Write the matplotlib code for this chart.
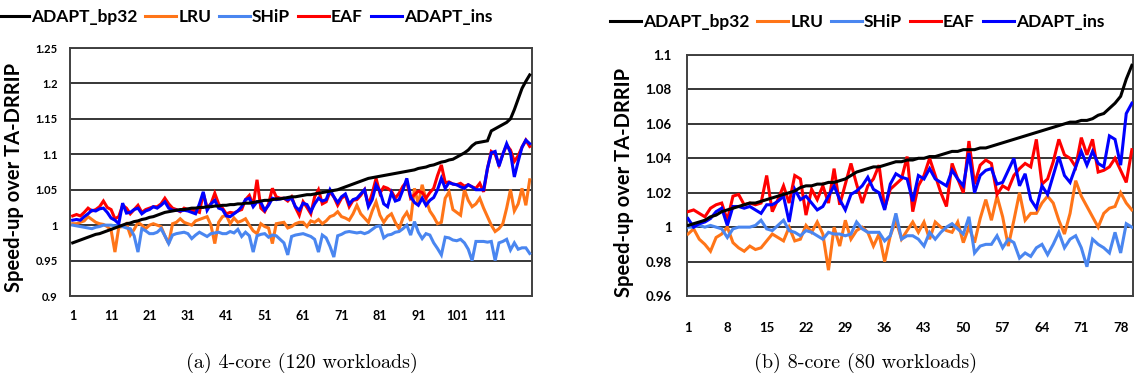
import numpy as np
import matplotlib
matplotlib.use("Agg")
from matplotlib import pyplot as plt

# ---- data: (a) 4-core, 120 workloads ----
adapt_bp32_4 = [0.975, 0.977, 0.979, 0.981, 0.983, 0.985, 0.987, 0.988, 0.990, 0.992,
                0.994, 0.996, 0.998, 1.000, 1.002, 1.003, 1.005, 1.006, 1.008, 1.009,
                1.011, 1.012, 1.014, 1.016, 1.018, 1.019, 1.020, 1.021, 1.022, 1.022,
                1.023, 1.024, 1.024, 1.025, 1.025, 1.026, 1.026, 1.027, 1.027, 1.028,
                1.028, 1.029, 1.029, 1.030, 1.030, 1.031, 1.031, 1.032, 1.033, 1.034,
                1.035, 1.035, 1.036, 1.037, 1.037, 1.038, 1.039, 1.040, 1.040, 1.041,
                1.042, 1.043, 1.043, 1.044, 1.045, 1.046, 1.047, 1.048, 1.049, 1.050,
                1.052, 1.054, 1.056, 1.058, 1.060, 1.062, 1.064, 1.066, 1.067, 1.068,
                1.069, 1.070, 1.071, 1.072, 1.073, 1.074, 1.075, 1.076, 1.077, 1.078,
                1.080, 1.081, 1.082, 1.084, 1.085, 1.087, 1.089, 1.090, 1.092, 1.093,
                1.096, 1.099, 1.102, 1.106, 1.112, 1.116, 1.117, 1.118, 1.119, 1.133,
                1.136, 1.139, 1.142, 1.145, 1.150, 1.163, 1.178, 1.193, 1.203, 1.212]
lru_4 = [1.002, 1.002, 1.004, 1.006, 1.012, 1.008, 1.004, 1.002, 1.001, 0.998,
         0.993, 0.962, 0.997, 0.998, 1.002, 0.986, 0.994, 1.004, 1.000, 0.995,
         1.000, 1.002, 1.000, 0.998, 0.985, 0.974, 1.002, 1.004, 1.009, 1.004,
         1.002, 1.000, 1.006, 1.008, 1.010, 1.012, 1.000, 0.974, 1.004, 1.012,
         1.014, 1.002, 1.010, 1.004, 1.006, 1.009, 1.000, 0.992, 0.988, 1.002,
         0.998, 0.996, 0.974, 1.002, 1.003, 1.004, 0.996, 0.998, 1.002, 1.004,
         1.004, 0.998, 1.006, 1.004, 1.008, 1.002, 1.006, 1.012, 1.014, 1.019,
         1.012, 1.010, 1.007, 1.016, 1.028, 1.016, 1.010, 1.004, 1.020, 1.033,
         1.014, 1.004, 1.012, 1.016, 1.004, 0.995, 1.010, 1.018, 1.006, 1.052,
         1.030, 1.057, 1.036, 1.020, 1.012, 1.002, 1.004, 1.038, 1.047, 1.022,
         1.018, 1.014, 1.050, 1.035, 1.026, 1.030, 1.038, 1.024, 1.012, 1.000,
         0.991, 0.995, 1.002, 1.024, 1.050, 1.020, 1.030, 1.052, 1.028, 1.064]
ship_4 = [1.000, 0.999, 0.998, 0.997, 0.996, 0.995, 0.997, 0.998, 1.000, 1.000,
          1.000, 0.999, 1.000, 0.998, 0.996, 0.995, 0.985, 0.962, 0.995, 0.992,
          0.988, 0.988, 0.990, 0.995, 0.985, 0.974, 0.986, 0.988, 0.989, 0.990,
          0.988, 0.981, 0.986, 0.990, 0.987, 0.984, 0.988, 0.989, 0.990, 0.988,
          0.988, 0.991, 0.989, 0.994, 0.984, 0.990, 0.985, 0.962, 0.985, 0.987,
          0.988, 0.983, 0.986, 0.985, 0.980, 0.975, 0.958, 0.984, 0.986, 0.987,
          0.988, 0.986, 0.984, 0.980, 0.962, 0.986, 0.982, 0.970, 0.955, 0.985,
          0.987, 0.990, 0.991, 0.990, 0.989, 0.990, 0.988, 0.990, 0.994, 0.998,
          0.999, 0.982, 0.986, 0.987, 0.990, 0.991, 0.995, 1.000, 0.986, 1.005,
          0.990, 0.981, 0.988, 0.986, 0.975, 0.967, 0.958, 0.983, 0.982, 0.979,
          0.978, 0.980, 0.975, 0.966, 0.950, 0.977, 0.977, 0.977, 0.976, 0.977,
          0.950, 0.975, 0.977, 0.980, 0.965, 0.975, 0.966, 0.968, 0.968, 0.960]
eaf_4 = [1.013, 1.015, 1.013, 1.018, 1.024, 1.020, 1.022, 1.026, 1.034, 1.025,
         1.022, 1.009, 1.012, 1.028, 1.024, 1.016, 1.022, 1.028, 1.018, 1.022,
         1.024, 1.026, 1.026, 1.030, 1.038, 1.030, 1.024, 1.022, 1.019, 1.024,
         1.022, 1.021, 1.020, 1.018, 1.045, 1.025, 1.030, 1.045, 1.030, 1.024,
         1.016, 1.018, 1.017, 1.020, 1.022, 1.036, 1.042, 1.028, 1.064, 1.024,
         1.019, 1.030, 1.052, 1.040, 1.038, 1.038, 1.034, 1.040, 1.025, 1.014,
         1.033, 1.025, 1.016, 1.040, 1.050, 1.030, 1.033, 1.047, 1.040, 1.028,
         1.038, 1.042, 1.026, 1.035, 1.036, 1.042, 1.050, 1.028, 1.045, 1.066,
         1.045, 1.054, 1.052, 1.048, 1.038, 1.045, 1.055, 1.061, 1.038, 1.043,
         1.048, 1.046, 1.038, 1.046, 1.052, 1.070, 1.085, 1.060, 1.061, 1.058,
         1.057, 1.059, 1.055, 1.057, 1.054, 1.052, 1.059, 1.047, 1.080, 1.104,
         1.100, 1.085, 1.100, 1.113, 1.106, 1.090, 1.098, 1.110, 1.120, 1.111]
adapt_ins_4 = [1.007, 1.008, 1.007, 1.012, 1.016, 1.021, 1.020, 1.023, 1.024, 1.018,
               1.010, 1.007, 1.002, 1.031, 1.017, 1.018, 1.022, 1.024, 1.016, 1.020,
               1.022, 1.026, 1.024, 1.028, 1.033, 1.024, 1.021, 1.021, 1.020, 1.021,
               1.020, 1.018, 1.016, 1.030, 1.047, 1.021, 1.030, 1.035, 1.024, 1.022,
               1.013, 1.012, 1.016, 1.020, 1.026, 1.036, 1.038, 1.026, 1.033, 1.032,
               1.021, 1.028, 1.038, 1.036, 1.037, 1.038, 1.036, 1.038, 1.026, 1.021,
               1.031, 1.029, 1.019, 1.030, 1.038, 1.034, 1.036, 1.050, 1.040, 1.032,
               1.040, 1.044, 1.030, 1.036, 1.038, 1.044, 1.050, 1.026, 1.036, 1.057,
               1.048, 1.030, 1.026, 1.046, 1.034, 1.036, 1.050, 1.066, 1.040, 1.032,
               1.028, 1.038, 1.028, 1.035, 1.039, 1.050, 1.066, 1.052, 1.060, 1.058,
               1.057, 1.054, 1.052, 1.057, 1.054, 1.050, 1.050, 1.050, 1.080, 1.102,
               1.104, 1.083, 1.100, 1.115, 1.102, 1.068, 1.090, 1.110, 1.120, 1.115]

# ---- data: (b) 8-core, 80 workloads ----
adapt_bp32_8 = [1.001, 1.002, 1.003, 1.004, 1.006, 1.007, 1.009, 1.010, 1.011, 1.012,
                1.013, 1.014, 1.014, 1.015, 1.016, 1.017, 1.018, 1.019, 1.020, 1.021,
                1.023, 1.024, 1.024, 1.025, 1.025, 1.026, 1.026, 1.027, 1.028, 1.030,
                1.032, 1.033, 1.034, 1.035, 1.035, 1.036, 1.037, 1.038, 1.038, 1.039,
                1.039, 1.040, 1.040, 1.041, 1.041, 1.042, 1.043, 1.044, 1.044, 1.045,
                1.045, 1.045, 1.046, 1.046, 1.047, 1.048, 1.049, 1.050, 1.051, 1.052,
                1.053, 1.054, 1.055, 1.056, 1.057, 1.058, 1.059, 1.060, 1.061, 1.061,
                1.062, 1.062, 1.063, 1.065, 1.066, 1.069, 1.072, 1.076, 1.086, 1.094]
lru_8 = [0.996, 0.999, 0.993, 0.990, 0.986, 0.994, 0.996, 1.000, 0.991, 0.988,
         0.986, 0.989, 0.987, 0.988, 0.992, 0.996, 0.994, 0.992, 1.000, 0.992,
         0.993, 1.001, 0.997, 1.003, 0.996, 0.975, 1.000, 0.989, 1.004, 0.993,
         0.998, 1.000, 0.997, 0.989, 0.996, 0.980, 0.995, 1.004, 0.993, 0.998,
         1.003, 0.997, 1.003, 0.993, 1.003, 1.000, 0.998, 0.997, 1.003, 0.991,
         1.000, 0.991, 1.005, 1.016, 1.004, 1.018, 1.006, 0.989, 1.004, 1.020,
         1.004, 1.008, 1.008, 1.014, 1.018, 1.014, 1.004, 0.996, 1.008, 1.027,
         1.018, 1.012, 1.006, 1.000, 1.008, 1.011, 1.012, 1.020, 1.014, 1.010]
ship_8 = [1.000, 1.000, 1.001, 1.000, 1.001, 1.000, 0.999, 0.994, 0.999, 1.000,
          1.000, 1.000, 1.001, 1.004, 0.999, 0.998, 1.001, 1.004, 0.998, 0.997,
          0.995, 0.998, 0.997, 0.995, 0.993, 0.997, 0.996, 0.996, 0.995, 0.996,
          1.003, 0.999, 0.997, 0.997, 0.997, 0.992, 0.995, 1.008, 0.993, 0.995,
          0.995, 0.993, 0.989, 0.997, 0.993, 0.997, 1.000, 1.002, 0.999, 0.996,
          1.006, 0.985, 0.989, 0.990, 0.990, 0.995, 0.988, 0.993, 0.991, 0.982,
          0.985, 0.983, 0.988, 0.990, 0.984, 0.990, 0.997, 0.988, 0.993, 0.995,
          0.988, 0.977, 0.993, 0.990, 0.988, 0.985, 0.997, 0.985, 1.002, 1.000]
eaf_8 = [1.009, 1.010, 1.008, 1.006, 1.011, 1.013, 1.014, 1.004, 1.018, 1.019,
         1.013, 1.014, 1.013, 1.014, 1.030, 1.009, 1.016, 1.024, 1.014, 1.030,
         1.028, 1.007, 1.022, 1.016, 1.024, 1.014, 1.034, 1.013, 1.025, 1.037,
         1.025, 1.014, 1.024, 1.028, 1.036, 1.011, 1.022, 1.025, 1.028, 1.041,
         1.009, 1.024, 1.030, 1.040, 1.030, 1.020, 1.012, 1.037, 1.028, 1.020,
         1.050, 1.025, 1.036, 1.039, 1.037, 1.019, 1.024, 1.022, 1.030, 1.034,
         1.037, 1.035, 1.051, 1.025, 1.028, 1.038, 1.051, 1.042, 1.040, 1.035,
         1.052, 1.042, 1.051, 1.032, 1.033, 1.035, 1.040, 1.033, 1.026, 1.045]
adapt_ins_8 = [1.005, 1.000, 1.002, 1.003, 1.005, 1.009, 1.011, 1.001, 1.012, 1.012,
               1.011, 1.012, 1.010, 1.008, 1.013, 1.013, 1.015, 1.018, 1.003, 1.022,
               1.016, 1.018, 1.014, 1.010, 1.012, 1.018, 1.024, 1.016, 1.010, 1.019,
               1.021, 1.024, 1.029, 1.022, 1.020, 1.010, 1.025, 1.031, 1.029, 1.028,
               1.015, 1.030, 1.028, 1.034, 1.028, 1.026, 1.024, 1.033, 1.028, 1.024,
               1.043, 1.020, 1.030, 1.033, 1.034, 1.025, 1.026, 1.033, 1.040, 1.024,
               1.031, 1.016, 1.011, 1.024, 1.019, 1.030, 1.041, 1.030, 1.026, 1.035,
               1.044, 1.036, 1.044, 1.037, 1.035, 1.053, 1.051, 1.036, 1.066, 1.072]

series_names = ['ADAPT_bp32', 'LRU', 'SHiP', 'EAF', 'ADAPT_ins']
series_colors = ['#000000', '#FF7518', '#4A86F0', '#FF0000', '#0000FF']

ticks_4 = [1, 11, 21, 31, 41, 51, 61, 71, 81, 91, 101, 111]
ticks_8 = [1, 8, 15, 22, 29, 36, 43, 50, 57, 64, 71, 78]
yticks_4 = [0.9, 0.95, 1, 1.05, 1.1, 1.15, 1.2, 1.25]
yticks_8 = [0.96, 0.98, 1, 1.02, 1.04, 1.06, 1.08, 1.1]

label_font = 'Lato'


def fmt(v):
    # Excel "General" number format
    s = ('%.2f' % v).rstrip('0').rstrip('.')
    return s


def draw_panel(ax, data, xticks, yticks, xlim, ysize, xsize, xpad, ypad):
    x = np.arange(1, len(data[0]) + 1)
    # draw the black line last so it stays on top like the original
    order = [1, 2, 3, 4, 0]
    for k in order:
        ax.plot(x, data[k], color=series_colors[k], lw=2.2, label=series_names[k],
                solid_joinstyle='miter', zorder=3 if k else 4)
    ax.set_xlim(xlim)
    ax.set_ylim(yticks[0], yticks[-1])
    ax.set_yticks(yticks)
    ax.set_yticklabels([fmt(v) for v in yticks], fontfamily=label_font,
                       fontweight='bold', fontsize=ysize)
    ax.set_xticks(xticks)
    ax.set_xticklabels([str(t) for t in xticks], fontfamily=label_font,
                       fontweight='bold', fontsize=xsize)
    ax.tick_params(axis='both', length=0)
    ax.tick_params(axis='x', pad=xpad)
    ax.tick_params(axis='y', pad=ypad)
    ax.grid(axis='y', color='black', lw=1.1)
    ax.set_axisbelow(True)
    for sp in ax.spines.values():
        sp.set_color('#404040')
        sp.set_linewidth(1.4)
    ax.set_ylabel('Speed-up over TA-DRRIP', fontfamily=label_font,
                  fontweight='bold', fontsize=14.5)


fig = plt.figure(figsize=(11.46, 3.85), dpi=100)

ax1 = fig.add_axes([70 / 1146, 89 / 385, 462 / 1146, 248 / 385])
draw_panel(ax1, [adapt_bp32_4, lru_4, ship_4, eaf_4, adapt_ins_4],
           ticks_4, yticks_4, (0.3, 120.6), 8, 9, 10, 9)
ax1.yaxis.set_label_coords(-0.100, 0.48)

ax2 = fig.add_axes([687 / 1146, 89 / 385, 446 / 1146, 241 / 385])
draw_panel(ax2, [adapt_bp32_8, lru_8, ship_8, eaf_8, adapt_ins_8],
           ticks_8, yticks_8, (0.82, 80.2), 9.5, 9.5, 19, 11)
ax2.yaxis.set_label_coords(-0.119, 0.47)

# legends in original order
for ax, cx, cy in [(ax1, 245 / 1146, 1 - 17 / 385), (ax2, 857 / 1146, 1 - 22 / 385)]:
    h, l = ax.get_legend_handles_labels()
    idx = [l.index(n) for n in series_names]
    ax.legend([h[i] for i in idx], [l[i] for i in idx], ncol=5, loc='center',
              bbox_to_anchor=(cx, cy), bbox_transform=fig.transFigure,
              frameon=False, handlelength=1.8, handletextpad=0.1,
              columnspacing=0.45, borderaxespad=0,
              prop={'family': label_font, 'weight': 'bold', 'size': 12.5})

fig.text(302 / 1146, 1 - 363 / 385, '(a) 4-core (120 workloads)', ha='center',
         va='center', fontfamily='cmr10', fontsize=14.5)
fig.text(866 / 1146, 1 - 363 / 385, '(b) 8-core (80 workloads)', ha='center',
         va='center', fontfamily='cmr10', fontsize=14.5)

fig.savefig('out.png', dpi=100)
